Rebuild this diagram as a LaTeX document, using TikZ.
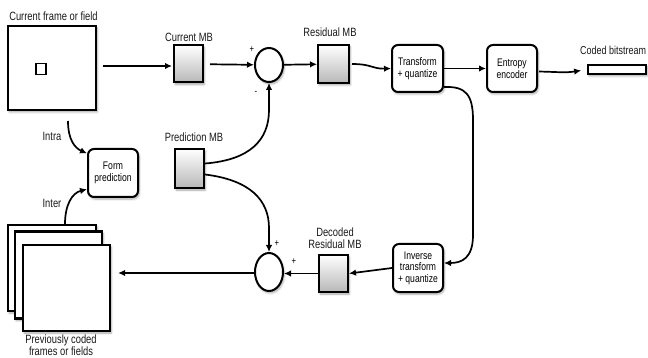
\documentclass[tikz,border=0pt]{standalone}
\usepackage{fontspec}
\setmainfont[FakeStretch=0.78]{Liberation Sans}
\usetikzlibrary{shapes.geometric,arrows.meta,shadows.blur}

\tikzset{
  soft/.style={blur shadow={shadow xshift=1.2pt, shadow yshift=-2pt, shadow blur steps=6, shadow opacity=35}},
  mbbox/.style={draw, line width=2pt, minimum width=29pt, minimum height=37pt, inner sep=0,
    top color=white, bottom color=black!28, soft},
  procbox/.style={draw, line width=2pt, rounded corners=6pt, fill=white, minimum width=50pt,
    minimum height=47pt, align=center, inner sep=1pt, font=\fontsize{11}{12}\selectfont, soft},
  framebox/.style={draw, line width=2.2pt, fill=white, inner sep=0, soft},
  sumnode/.style={draw, line width=2pt, ellipse, fill=white, minimum width=28pt, inner sep=0, soft},
  arr/.style={line width=1.7pt, -{Latex[length=7pt,width=6.5pt]}},
  lbl/.style={font=\fontsize{12}{13}\selectfont, inner sep=0, align=center, text=black!90},
  sign/.style={font=\fontsize{10}{10}\selectfont, inner sep=0}
}

\begin{document}
\begin{tikzpicture}[x=1pt,y=-1pt]
\useasboundingbox (0,0) rectangle (648,358);

% current frame with its macroblock
\node[framebox, minimum width=88pt, minimum height=84pt] (frame) at (52,68) {};
\node[draw, line width=1.8pt, fill=white, minimum width=10pt, minimum height=11pt, inner sep=0] (blk) at (41,69) {};
\node[lbl] (frameL) at (53.5,16.5) {Current frame or field};

% forward path
\node[mbbox] (curMB) at (188.5,64) {};
\node[lbl] (curL) at (189,37) {Current MB};
\node[sumnode, minimum height=34pt] (sum1) at (269,65) {};
\node[mbbox, minimum width=31pt, minimum height=38pt] (resMB) at (333.5,64) {};
\node[lbl] (resL) at (330,32) {Residual MB};
\node[procbox, minimum width=51pt] (tq) at (417.5,68.5) {Transform\\+ quantize};
\node[procbox] (ent) at (512,68.5) {Entropy\\encoder};
\node[draw, line width=1.8pt, fill=white, minimum width=58pt, minimum height=9pt, inner sep=0, soft] (bit) at (617,69.5) {};
\node[lbl, anchor=west, font=\fontsize{11.5}{13}\selectfont] (bitL) at (580,50) {Coded bitstream};

% prediction
\node[procbox, minimum height=48pt] (form) at (113,173) {Form\\prediction};
\node[mbbox, minimum height=39pt] (predMB) at (189.5,168.5) {};
\node[lbl] (predL) at (194,137) {Prediction MB};
\node[lbl] (intraL) at (52,136) {Intra};
\node[lbl] (interL) at (52,203) {Inter};

% reconstruction path
\node[sumnode, minimum height=38pt] (sum2) at (269,272) {};
\node[mbbox] (decMB) at (333.5,273.5) {};
\node[lbl, font=\fontsize{12}{12}\selectfont] (decL) at (335,238) {Decoded\\Residual MB};
\node[procbox, minimum height=48pt, font=\fontsize{11}{11.5}\selectfont] (inv) at (418,268) {Inverse\\transform\\+ quantize};

% stack of previously coded frames
\node[framebox, minimum width=88pt, minimum height=86pt] (back) at (52,268) {};
\node[framebox, minimum width=87pt, minimum height=87pt] (mid) at (58.5,275) {};
\node[framebox, minimum width=87pt, minimum height=86pt] (front) at (66.5,288) {};
\node[lbl, font=\fontsize{12}{12}\selectfont] (prevL) at (61,345.5) {Previously coded\\frames or fields};

% signs at the adders
\node[sign] (p1) at (252,50) {+};
\node[sign] (m1) at (256,93) {-};
\node[sign] (p2) at (277,244) {+};
\node[sign] (p3) at (294,262) {+};

% helper points on the loop back
\coordinate (rtop) at (473,120);
\coordinate (rbot) at (473,235);
\coordinate (intraS) at (68,121);
\coordinate (interS) at (65,224);

% connectors
\draw[arr, shorten <=6pt, shorten >=1pt] (frame.east |- 0,66) -- (curMB.west |- 0,66);
\draw[arr, shorten <=6pt] (curMB) -- (sum1);
\draw[arr] (sum1) -- (resMB);
\draw[arr, shorten <=2pt] (resMB.east) .. controls (372,64) and (372,69) .. (tq.west);
\draw[arr] (tq) -- (ent);
\draw[arr, shorten <=1pt, shorten >=6pt] ([yshift=-3pt]ent.east) .. controls (560,72) and (565,73) .. (bit.west);
\draw[arr] ([yshift=5pt]predMB.east) .. controls (250,160) and (269,140) .. (269,110) -- (sum1.south);
\draw[arr] ([yshift=-6pt]predMB.east) .. controls (250,180) and (269,200) .. (269,228) -- (sum2.north);
\draw[arr] (intraS) .. controls (68,140) and (75,148) .. (form.143);
\draw[arr] (interS) .. controls (65,205) and (72,193) .. (form.212);
\draw[arr] (tq.-35) .. controls (466,86) and (473,95) .. (rtop) -- (rbot) .. controls (473,258) and (462,263) .. ([yshift=5pt]inv.east);
\draw[arr] (inv.west) -- (decMB.east);
\draw[arr] (decMB.west) -- (sum2.east |- decMB.west);
\draw[arr, shorten >=7pt] (sum2.west |- 0,273) -- (front.east |- 0,273);
\end{tikzpicture}
\end{document}
